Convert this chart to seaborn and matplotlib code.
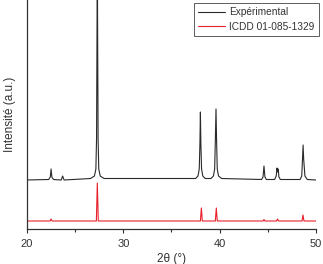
import matplotlib
matplotlib.use("Agg")
import matplotlib.pyplot as plt
import seaborn as sns
import pandas as pd
from matplotlib.ticker import MultipleLocator

sns.set_theme(style="ticks")
plt.rcParams['font.family'] = ['Liberation Sans', 'DejaVu Sans']

# Experimental pattern vertices (2θ, intensity a.u.)
exp_x = [20.0,
         22.25, 22.42, 22.5, 22.58, 22.75,
         23.55, 23.7, 23.85,
         26.6, 27.0, 27.15, 27.22, 27.3, 27.38, 27.45, 27.6, 28.0,
         37.5, 37.75, 37.88, 37.95, 38.0, 38.05, 38.12, 38.25, 38.5,
         39.1, 39.35, 39.48, 39.55, 39.62, 39.68, 39.75, 39.88, 40.2,
         44.35, 44.5, 44.6, 44.7, 44.85,
         45.7, 45.87, 45.95, 46.02, 46.08, 46.15, 46.3,
         48.35, 48.52, 48.6, 48.66, 48.72, 48.85, 49.1,
         50.0]
exp_y = [49,
         49.5, 52, 60, 52, 49.5,
         49, 53, 49,
         50.5, 53, 60, 90, 270, 90, 60, 53, 50.5,
         50.5, 53, 60, 85, 117, 85, 60, 53, 50.5,
         50.5, 53, 60, 88, 120, 88, 60, 53, 50.5,
         49.5, 52, 63, 52, 49.5,
         49.5, 53, 61, 57, 60, 52, 49.5,
         49.5, 53, 70, 84, 70, 53, 49.5,
         49]

# Reference ICDD 01-085-1329 pattern vertices
ref_x = [20.0, 22.4, 22.5, 22.6, 27.2, 27.3, 27.4, 38.0, 38.1, 38.2,
         39.55, 39.65, 39.75, 44.5, 44.6, 44.7, 45.9, 46.0, 46.1,
         48.55, 48.65, 48.75, 50.0]
ref_y = [8, 8, 10, 8, 8, 46, 8, 8, 21, 8,
         8, 21, 8, 8, 9.5, 8, 8, 10, 8,
         8, 14, 8, 8]

df_exp = pd.DataFrame({"x": exp_x, "y": exp_y})
df_ref = pd.DataFrame({"x": ref_x, "y": ref_y})

fig = plt.figure(figsize=(3.23, 2.64), dpi=100)
ax = fig.add_axes([27/323, 35/264, (316-27)/323, 229/264])

sns.lineplot(data=df_exp, x="x", y="y", ax=ax, color="#2a2a2a", lw=0.8,
             label="Expérimental", sort=False)
sns.lineplot(data=df_ref, x="x", y="y", ax=ax, color="#e8202a", lw=0.8,
             label="ICDD 01-085-1329", sort=False)

ax.set_xlim(20, 50)
ax.set_ylim(0, 229)
ax.xaxis.set_major_locator(MultipleLocator(10))
ax.xaxis.set_minor_locator(MultipleLocator(5))
ax.tick_params(axis='x', which='major', length=3, width=0.8, labelsize=8, pad=4, colors='#333333', labelcolor='#333333')
ax.tick_params(axis='x', which='minor', length=2, width=0.8, colors='#333333')
ax.set_yticks([])
for s in ['top', 'right']:
    ax.spines[s].set_visible(False)
for s in ['left', 'bottom']:
    ax.spines[s].set_linewidth(0.9)
    ax.spines[s].set_color('#333333')

ax.set_xlabel("2θ (°)", fontsize=8.5, color='#333333', labelpad=3)
ax.set_ylabel("Intensité (a.u.)", fontsize=8.5, color='#333333', labelpad=8)

leg = ax.legend(loc='upper right', bbox_to_anchor=(1.01, 0.988), fontsize=7.3, frameon=True,
                fancybox=False, edgecolor='#333333', handlelength=2.6, handletextpad=0.45,
                borderpad=0.45, labelspacing=0.45, borderaxespad=0)
leg.get_frame().set_linewidth(0.7)
for t in leg.get_texts():
    t.set_color('#333333')

fig.savefig("out.png", dpi=100)
